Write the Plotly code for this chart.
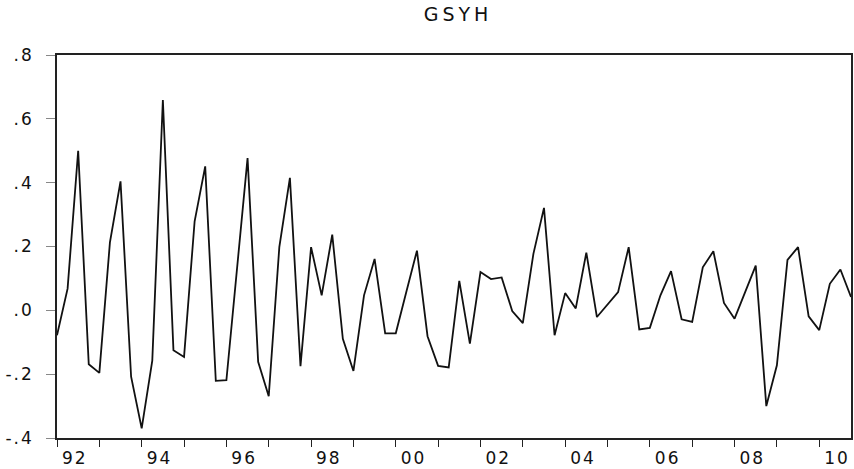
import plotly.graph_objects as go

start_year = 1992
values = [
    -0.078, 0.068, 0.500, -0.169, -0.196, 0.213, 0.404, -0.208,
    -0.370, -0.158, 0.659, -0.125, -0.146, 0.279, 0.451, -0.221,
    -0.219, 0.129, 0.477, -0.161, -0.269, 0.198, 0.415, -0.175,
    0.198, 0.047, 0.237, -0.089, -0.190, 0.047, 0.161, -0.072,
    -0.072, 0.058, 0.187, -0.081, -0.174, -0.179, 0.092, -0.104,
    0.120, 0.098, 0.103, -0.002, -0.040, 0.177, 0.321, -0.078,
    0.054, 0.006, 0.181, -0.021, 0.019, 0.057, 0.198, -0.060,
    -0.055, 0.047, 0.123, -0.028, -0.036, 0.135, 0.185, 0.023,
    -0.026, 0.057, 0.140, -0.300, -0.172, 0.158, 0.198, -0.019,
    -0.062, 0.083, 0.128, 0.042,
]
x = [start_year + i / 4 for i in range(len(values))]

year_ticks = list(range(1992, 2011))
label_years = list(range(1992, 2011, 2))
label_text = ["92", "94", "96", "98", "00", "02", "04", "06", "08", "10"]
y_ticks = [-0.4, -0.2, 0.0, 0.2, 0.4, 0.6, 0.8]
y_text = ["-.4", "-.2", ".0", ".2", ".4", ".6", ".8"]
title_text = "GSYH"

font = "DejaVu Sans, Verdana, sans-serif"


def spaced(t, px):
    return '<span style="letter-spacing:%dpx">%s</span>' % (px, t)


fig = go.Figure()
fig.add_trace(go.Scatter(x=x, y=values, mode="lines",
                         line=dict(color="#111111", width=1.8),
                         hoverinfo="skip", showlegend=False))
# invisible trace for the label axis
fig.add_trace(go.Scatter(x=[x[0], x[-1]], y=[0, 0], xaxis="x2", mode="lines",
                         line=dict(width=0), hoverinfo="skip", showlegend=False))

xr = [x[0], x[-1]]
fig.update_layout(
    width=854, height=469,
    margin=dict(l=57, r=1, t=55, b=31),
    paper_bgcolor="white", plot_bgcolor="white",
    title=dict(text=spaced(title_text, 4), x=458 / 854, xanchor="center",
               y=1 - 14 / 469, yanchor="middle",
               font=dict(family=font, size=19, color="#111")),
    xaxis=dict(range=xr, tickmode="array", tickvals=year_ticks,
               ticktext=[""] * len(year_ticks), ticks="outside", ticklen=7,
               tickcolor="#222", tickwidth=1.2, showgrid=False, zeroline=False,
               showline=True, linecolor="#222", linewidth=1.5, mirror=True),
    xaxis2=dict(range=xr, overlaying="x", side="bottom", anchor="y",
                tickmode="array", tickvals=[yr + 0.42 for yr in label_years],
                ticktext=[spaced(t, 2) for t in label_text], ticks="",
                showgrid=False, zeroline=False, showline=False,
                ticklabelstandoff=8,
                tickfont=dict(family=font, size=17, color="#111")),
    yaxis=dict(range=[-0.4, 0.8], tickmode="array", tickvals=y_ticks,
               ticktext=[spaced(t, 2) for t in y_text], ticks="outside",
               ticklen=9, tickcolor="#888", tickwidth=1.2, showgrid=False,
               zeroline=False, showline=True, linecolor="#222", linewidth=1.5,
               mirror=True, ticklabelstandoff=9,
               tickfont=dict(family=font, size=17, color="#111")),
)

fig.write_html("out.html")
